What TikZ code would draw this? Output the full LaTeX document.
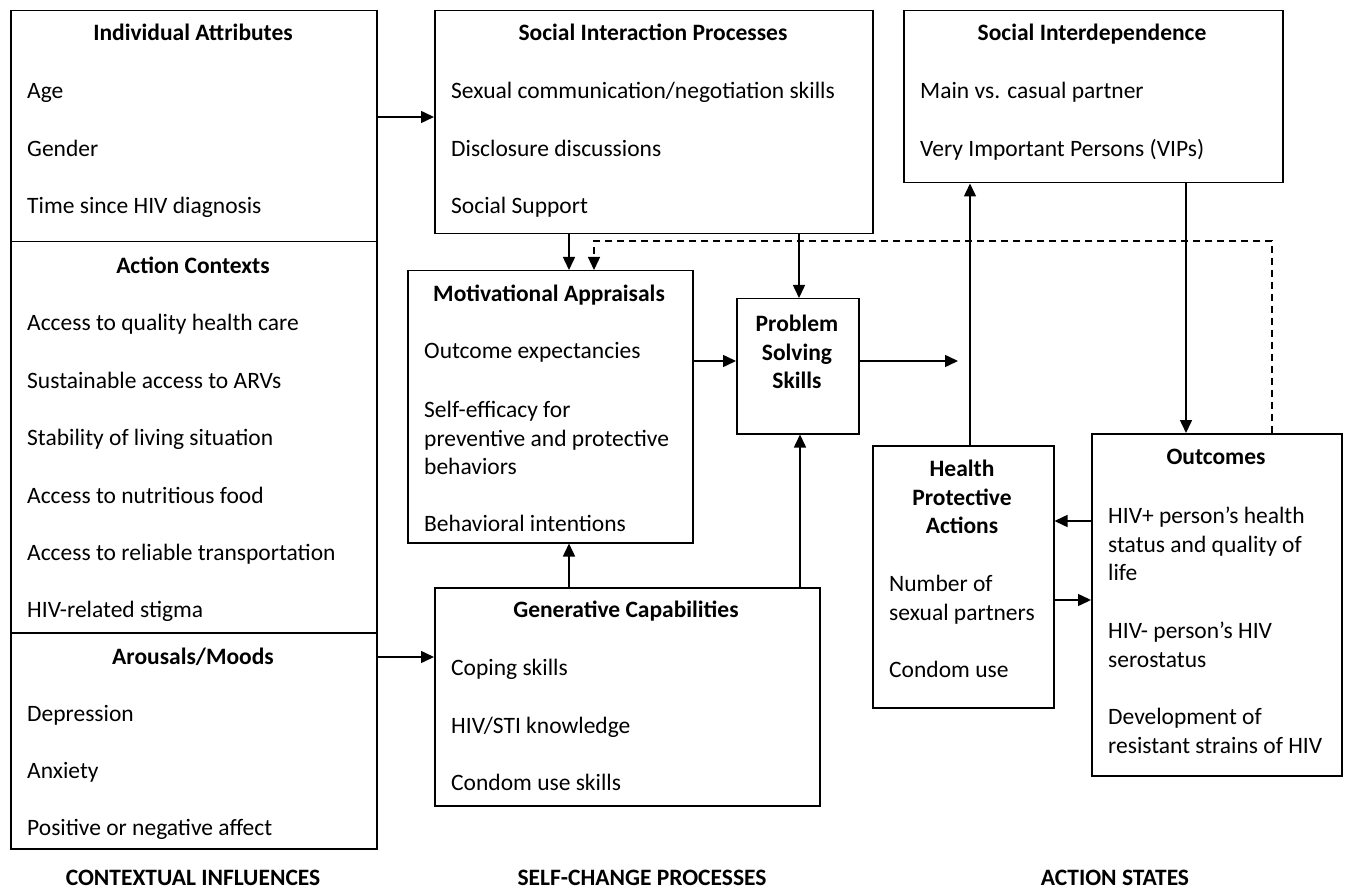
\documentclass[tikz,border=0pt]{standalone}
\usepackage{fontspec}
\setmainfont{Carlito}
\usetikzlibrary{arrows.meta}
\begin{document}
\begin{tikzpicture}[x=1pt,y=-1pt,
  box/.style={draw, line width=1.5pt, rectangle, inner sep=0pt, anchor=north west},
  ttl/.style={font=\fontsize{23.5}{28.7}\selectfont\bfseries, inner sep=0pt, align=center, text height=15pt, text depth=0pt},
  itm/.style={font=\fontsize{23.5}{28.7}\selectfont, inner sep=0pt, anchor=west, align=left, text height=15pt, text depth=0pt},
  arr/.style={line width=1.5pt, -{Triangle[length=13pt,width=12pt]}},
  lbl/.style={font=\fontsize{23.5}{28}\selectfont\bfseries, inner sep=0pt, text height=15pt, text depth=0pt}
]
\useasboundingbox[fill=white] (0,0) rectangle (1346,890);
% left column
\node[box, minimum width=366pt, minimum height=231pt] (ia) at (10,10) {};
\node[box, minimum width=366pt, minimum height=391pt] (ac) at (10,241) {};
\node[box, minimum width=366pt, minimum height=216pt] (am) at (10,632) {};
\node[ttl] (iat) at (193,33) {Individual Attributes};
\node[itm] (ia1) at (27,91) {Age};
\node[itm] (ia2) at (27,149) {Gender};
\node[itm] (ia3) at (27,206) {Time since HIV diagnosis};
\node[ttl] (act) at (193,266) {Action Contexts};
\node[itm] (ac1) at (27,323) {Access to quality health care};
\node[itm] (ac2) at (27,381) {Sustainable access to ARVs};
\node[itm] (ac3) at (27,438) {Stability of living situation};
\node[itm] (ac4) at (27,496) {Access to nutritious food};
\node[itm] (ac5) at (27,553) {Access to reliable transportation};
\node[itm] (ac6) at (27,610) {HIV-related stigma};
\node[ttl] (amt) at (193,657) {Arousals/Moods};
\node[itm] (am1) at (27,714) {Depression};
\node[itm] (am2) at (27,771) {Anxiety};
\node[itm] (am3) at (27,828) {Positive or negative affect};
% social interaction processes
\node[box, minimum width=438pt, minimum height=223pt] (sip) at (434,10) {};
\node[ttl] (sipt) at (653,33) {Social Interaction Processes};
\node[itm] (sip1) at (451,91) {Sexual communication/negotiation skills};
\node[itm] (sip2) at (451,149) {Disclosure discussions};
\node[itm] (sip3) at (451,206) {Social Support};
% social interdependence
\node[box, minimum width=379pt, minimum height=172pt] (si) at (903,10) {};
\node[ttl] (sit) at (1092,33) {Social Interdependence};
\node[itm] (si1) at (920,91) {Main vs. casual partner};
\node[itm] (si2) at (920,149) {Very Important Persons (VIPs)};
% motivational appraisals
\node[box, minimum width=285pt, minimum height=272pt] (ma) at (407,270) {};
\node[ttl] (mat) at (549,294) {Motivational Appraisals};
\node[itm, text height=, text depth=] (ma1) at (424,352) {Outcome expectancies};
\node[itm, text height=, text depth=] (ma2) at (424,438) {Self-efficacy for\\preventive and protective\\behaviors};
\node[itm] (ma3) at (424,524) {Behavioral intentions};
% problem solving skills
\node[box, minimum width=122pt, minimum height=135pt] (ps) at (736,298) {};
\node[ttl, text height=, text depth=] (pst) at (797,352) {Problem\\Solving\\Skills};
% generative capabilities
\node[box, minimum width=385pt, minimum height=218pt] (gc) at (434,587) {};
\node[ttl] (gct) at (626,610) {Generative Capabilities};
\node[itm] (gc1) at (451,668) {Coping skills};
\node[itm] (gc2) at (451,726) {HIV/STI knowledge};
\node[itm] (gc3) at (451,783) {Condom use skills};
% health protective actions
\node[box, minimum width=181pt, minimum height=262pt] (hpa) at (872,445) {};
\node[ttl, text height=, text depth=] (hpat) at (962,497) {Health\\Protective\\Actions};
\node[itm, text height=, text depth=] (hpa1) at (889,600) {Number of\\sexual partners};
\node[itm] (hpa2) at (889,670) {Condom use};
% outcomes
\node[box, minimum width=250pt, minimum height=342pt] (oc) at (1091,433) {};
\node[ttl] (oct) at (1216,457) {Outcomes};
\node[itm, text height=, text depth=] (oc1) at (1108,544) {HIV+ person's health\\status and quality of\\life};
\node[itm, text height=, text depth=] (oc2) at (1108,645) {HIV- person's HIV\\serostatus};
\node[itm, text height=, text depth=] (oc3) at (1108,731) {Development of\\resistant strains of HIV};
% bottom labels
\node[lbl] (l1) at (193,878) {CONTEXTUAL INFLUENCES};
\node[lbl] (l2) at (642,878) {SELF-CHANGE PROCESSES};
\node[lbl] (l3) at (1115,878) {ACTION STATES};
% connectors
\coordinate (pse) at (958,361);
\draw[arr] (ia.east |- 0,117) -- (sip.west |- 0,117);
\draw[arr] (am.east |- 0,657) -- (gc.west |- 0,657);
\draw[arr] (sip.south -| 569,0) -- (ma.north -| 569,0);
\draw[arr] (sip.south -| 799,0) -- (ps.north -| 799,0);
\draw[line width=1.3pt, dash pattern=on 7pt off 5pt, -{Triangle[length=13pt,width=12pt]}] (oc.north -| 1272,0) -- (1272,241) -- (594,241) -- (ma.north -| 594,0);
\draw[arr] (ma.east |- 0,361) -- (ps.west |- 0,361);
\draw[arr] (ps.east |- 0,361) -- (pse);
\draw[arr] (hpa.north -| 970,0) -- (si.south -| 970,0);
\draw[arr] (si.south -| 1186,0) -- (oc.north -| 1186,0);
\draw[arr] (oc.west |- 0,521) -- (hpa.east |- 0,521);
\draw[arr] (hpa.east |- 0,600) -- (oc.west |- 0,600);
\draw[arr] (gc.north -| 569,0) -- (ma.south -| 569,0);
\draw[arr] (gc.north -| 800,0) -- (ps.south -| 800,0);
\end{tikzpicture}
\end{document}
